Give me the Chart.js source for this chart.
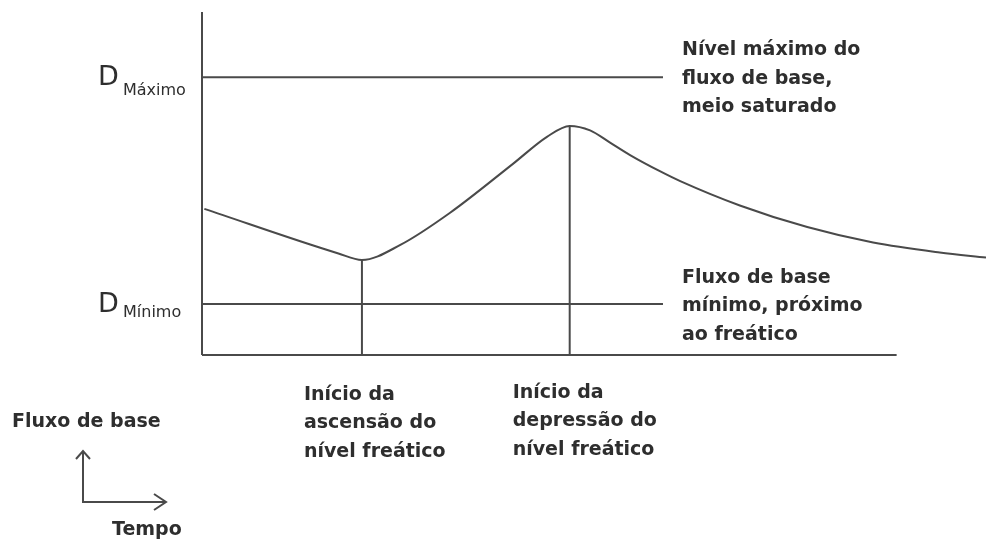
<!DOCTYPE html>
<html>
<head>
<meta charset="utf-8">
<script src="https://cdn.jsdelivr.net/npm/chart.js@4.4.1/dist/chart.umd.min.js"></script>
<style>
  html, body { margin: 0; padding: 0; background: #fff; }
  #wrap { width: 986px; height: 540px; position: relative; }
</style>
</head>
<body>
<div id="wrap"><canvas id="fluxo-base"></canvas></div>
<script>
// tempo (x) e fluxo de base (y) em unidades relativas 0-100
const tempo = [0.3, 17.4, 20.4, 25.3, 31.6, 39.7, 44.0, 46.9, 49.5, 52.0, 54.6,
  58.4, 61.0, 68.6, 77.2, 85.6, 94.1, 100];
const fluxo = [42.6, 29.6, 27.7, 32.1, 41.4, 55.8, 63.6, 66.8, 65.5, 62.0, 58.3,
  53.6, 50.7, 43.6, 37.3, 32.8, 29.9, 28.4];
const idxAscensao = 2;   // início da ascensão do nível freático
const idxDepressao = 7;  // início da depressão do nível freático
const dMaximo = 81.0;
const dMinimo = 14.9;
const fimNiveis = 58.8;
const fimTempo = 88.6;

const labelsMax = ['Nível máximo do', 'fluxo de base,', 'meio saturado'];
const labelsMin = ['Fluxo de base', 'mínimo, próximo', 'ao freático'];
const labelsAscensao = ['Início da', 'ascensão do', 'nível freático'];
const labelsDepressao = ['Início da', 'depressão do', 'nível freático'];

const LINE = '#4a4a4a';
const TEXT = '#2e2e2e';
const BOLD = 'bold 19px "DejaVu Sans"';

function seg(points) {
  return {
    data: points,
    showLine: true,
    borderColor: LINE,
    borderWidth: 2,
    pointRadius: 0,
    clip: false
  };
}

const curva = Object.assign(seg(tempo.map((t, i) => ({ x: t, y: fluxo[i] }))), {
  cubicInterpolationMode: 'monotone'
});

const textos = {
  id: 'textos',
  afterDraw(chart) {
    const { ctx, scales: { x, y } } = chart;
    ctx.save();
    ctx.fillStyle = TEXT;
    ctx.textAlign = 'left';

    // D Máximo / D Mínimo
    const yMax = y.getPixelForValue(dMaximo);
    const yMin = y.getPixelForValue(dMinimo);
    ctx.textBaseline = 'alphabetic';
    ctx.font = '27px "DejaVu Sans"';
    ctx.fillText('D', 98, yMax + 8);
    ctx.fillText('D', 98, yMin + 8);
    ctx.font = '16px "DejaVu Sans"';
    ctx.fillText('Máximo', 123, yMax + 18);
    ctx.fillText('Mínimo', 123, yMin + 13);

    // rótulos
    ctx.font = BOLD;
    ctx.textBaseline = 'middle';
    const lh = 28.5;
    const xr = x.getPixelForValue(fimNiveis) + 19;
    labelsMax.forEach((s, i) => ctx.fillText(s, xr, yMax - 27 + i * lh));
    labelsMin.forEach((s, i) => ctx.fillText(s, xr, yMin - 26 + i * lh));

    const y0 = y.getPixelForValue(0);
    const xa = x.getPixelForValue(tempo[idxAscensao]) - 58;
    labelsAscensao.forEach((s, i) => ctx.fillText(s, xa, y0 + 40 + i * lh));
    const xd = x.getPixelForValue(tempo[idxDepressao]) - 57;
    labelsDepressao.forEach((s, i) => ctx.fillText(s, xd, y0 + 38 + i * lh));

    // legenda dos eixos
    ctx.fillText('Fluxo de base', 12, 422);
    ctx.fillText('Tempo', 112, 530);

    ctx.strokeStyle = LINE;
    ctx.lineWidth = 2;
    ctx.beginPath();
    ctx.moveTo(83, 451);
    ctx.lineTo(83, 502);
    ctx.lineTo(165, 502);
    ctx.stroke();
    ctx.beginPath();
    ctx.moveTo(76, 459); ctx.lineTo(83, 451); ctx.lineTo(90, 459);
    ctx.moveTo(154, 494); ctx.lineTo(166, 502); ctx.lineTo(154, 510);
    ctx.stroke();
    ctx.restore();
  }
};

new Chart(document.getElementById('fluxo-base'), {
  type: 'scatter',
  data: {
    datasets: [
      seg([{ x: 0, y: 0 }, { x: 0, y: 100 }]),
      seg([{ x: 0, y: 0 }, { x: fimTempo, y: 0 }]),
      seg([{ x: 0, y: dMaximo }, { x: fimNiveis, y: dMaximo }]),
      seg([{ x: 0, y: dMinimo }, { x: fimNiveis, y: dMinimo }]),
      seg([{ x: tempo[idxAscensao], y: 0 }, { x: tempo[idxAscensao], y: fluxo[idxAscensao] }]),
      seg([{ x: tempo[idxDepressao], y: 0 }, { x: tempo[idxDepressao], y: fluxo[idxDepressao] }]),
      curva
    ]
  },
  options: {
    responsive: true,
    maintainAspectRatio: false,
    animation: false,
    layout: { padding: { left: 202, right: 0, top: 12, bottom: 185 } },
    plugins: { legend: { display: false }, tooltip: { enabled: false } },
    scales: {
      x: { type: 'linear', min: 0, max: 100, display: false },
      y: { min: 0, max: 100, display: false }
    }
  },
  plugins: [textos]
});
</script>
</body>
</html>
